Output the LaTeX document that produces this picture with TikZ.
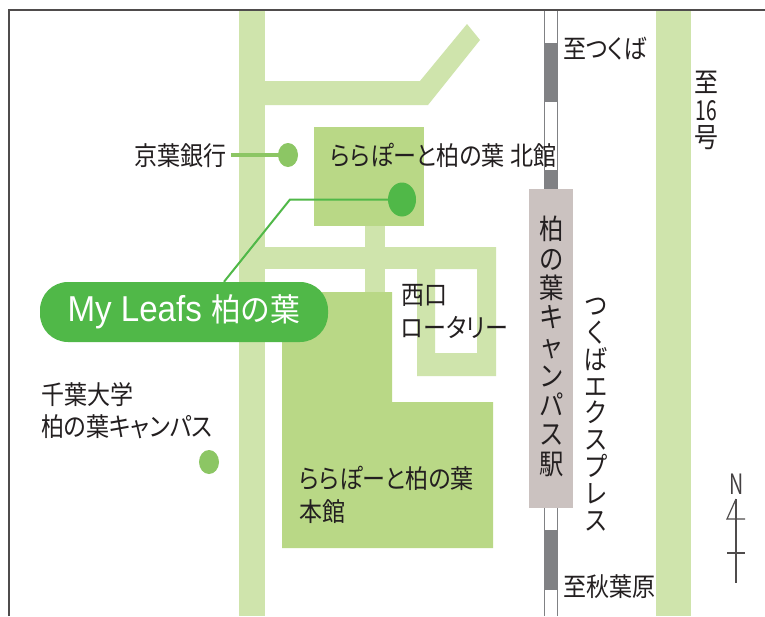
\documentclass[tikz,border=0pt]{standalone}
\usepackage{fontspec}
\setmainfont{Noto Sans CJK JP}
\newfontfamily\jp[FakeStretch=0.885,RawFeature=+palt]{Noto Sans CJK JP}
\newfontfamily\jpstack[FakeStretch=0.87]{Noto Sans CJK JP}
\newfontfamily\jppill[FakeStretch=0.93]{Noto Sans CJK JP}
\newfontfamily\latin[FakeStretch=0.92]{Liberation Sans}
\newfontfamily\narrowfont[FakeStretch=0.7]{Noto Sans CJK JP}
\definecolor{road}{HTML}{CFE4AC}
\definecolor{bldg}{HTML}{B9D886}
\definecolor{brand}{HTML}{50B848}
\definecolor{spot}{HTML}{8CC664}
\definecolor{rail}{HTML}{808184}
\definecolor{stn}{HTML}{CBC2C0}
\definecolor{ink}{HTML}{231F20}
\tikzset{
  x=1pt,y=-1pt,
  roadfill/.style={fill=road,draw=none},
  bldgfill/.style={fill=bldg,draw=none},
  lab/.style={font=\jp\fontsize{26}{26}\selectfont,text=ink,inner sep=0pt,anchor=base west},
  stack/.style={font=\jpstack\fontsize{#1}{#1}\selectfont,text=ink,inner sep=0pt,align=center,anchor=north},
  spotdot/.style={ellipse,fill=spot,minimum width=20pt,minimum height=24pt,inner sep=0pt},
  maindot/.style={ellipse,fill=brand,minimum width=28pt,minimum height=34pt,inner sep=0pt},
}
\usetikzlibrary{shapes.geometric}
\begin{document}
\begin{tikzpicture}
\useasboundingbox (0,0) rectangle (765,616);
\fill[white] (0,0) rectangle (765,616);
% roads
\fill[roadfill] (239,10) rectangle (265,616);
\fill[roadfill] (656,10) rectangle (691,616);
\fill[roadfill] (265,81) -- (420,81) -- (467,24) -- (480,40) -- (428,105) -- (265,105) -- cycle;
\fill[roadfill] (265,247) rectangle (496,269);
\fill[roadfill] (365,226) rectangle (385,292);
\fill[roadfill,even odd rule] (417,247) rectangle (496,376) (435,269) rectangle (477,353);
% buildings
\fill[bldgfill] (314,127) rectangle (424,226);
\fill[bldgfill] (282,292) -- (392,292) -- (392,402) -- (493,402) -- (493,548) -- (282,548) -- cycle;
% railway
\fill[white] (544,10) rectangle (558,616);
\draw[rail,line width=1pt] (544.5,10) -- (544.5,616) (557.5,10) -- (557.5,616);
\fill[rail] (544,43) rectangle (558,102);
\fill[rail] (544,170) rectangle (558,190);
\fill[rail] (544,530) rectangle (558,590);
\fill[stn] (529,189) rectangle (573,508);
% frame
\draw[ink!80,line width=1.6pt] (9,616) -- (9,10) -- (765,10);
% spots
\node[maindot] (mainspot) at (402,199.5) {};
\node[spotdot] (bankspot) at (288,155) {};
\node[spotdot] (univspot) at (209,462) {};
% labels
\node[lab] (bank) at (134,165) {京葉銀行};
\draw[spot,line width=3.5pt] ([xshift=5pt]bank.east |- bankspot.center) -- (bankspot.center);
\node[lab] (north) at (330,165) {ららぽーと柏の葉 北館};
\node[lab] (west1) at (401,304) {西口};
\node[lab] (west2) at (401,337) {ロータリー};
\node[lab] (univ1) at (41,404) {千葉大学};
\node[lab] (univ2) at (41,436) {柏の葉キャンパス};
\node[lab] (main1) at (299,488) {ららぽーと柏の葉};
\node[lab] (main2) at (299,521) {本館};
\node[lab] (totsukuba) at (563,58) {至つくば};
\node[lab] (toakiba) at (563,596) {至秋葉原};
% vertical labels
\node[stack=28] (station) at (551.5,216) {柏\\[1.3pt]の\\[1.3pt]葉\\[1.3pt]キ\\[1.3pt]ャ\\[1.3pt]ン\\[1.3pt]パ\\[1.3pt]ス\\[1.3pt]駅};
\node[stack=26.8] (tx) at (596,298) {つ\\く\\ば\\エ\\ク\\ス\\プ\\レ\\ス};
\node[stack=27.5] (r16) at (706,71) {至\\{\narrowfont\fontsize{27.5}{27.5}\selectfont 16}\\号};
% pill
\node[fill=brand,rounded corners=28pt,minimum width=288pt,minimum height=60pt,inner sep=0pt,
      text=white] (pill) at (184,312) {\latin\fontsize{36}{36}\selectfont My Leafs \jppill\fontsize{32}{32}\selectfont 柏の葉};
\coordinate (bend) at (290,199.5);
\draw[brand,line width=2pt] ([xshift=40pt]pill.north) -- (bend) -- (mainspot.center);
% north arrow
\node[font=\narrowfont\fontsize{28}{28}\selectfont,text=ink!85,inner sep=0pt] (nlabel) at (737,484) {N};
\coordinate (ntop) at (736,499);
\coordinate (nbot) at (736,583);
\draw[ink!80,line width=1.2pt] (ntop) -- (nbot);
\draw[ink!80,line width=1.2pt] (ntop) -- (727,519) -- (745,519);
\draw[ink!80,line width=1.2pt] (727,553) -- (745,553);
\end{tikzpicture}
\end{document}
